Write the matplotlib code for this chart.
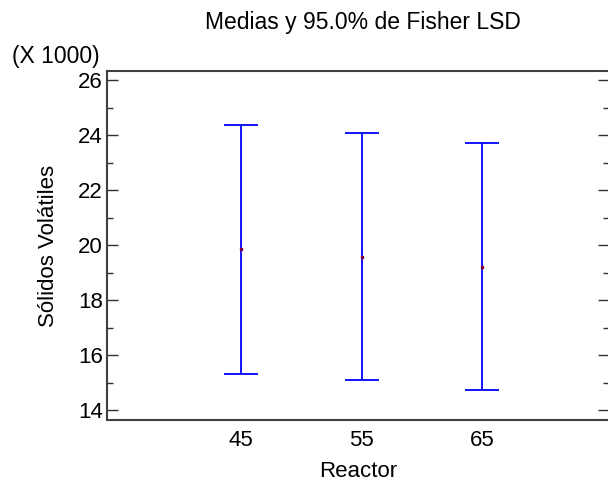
import numpy as np
import matplotlib.pyplot as plt

plt.rcParams['font.family'] = ['Liberation Sans', 'DejaVu Sans']

reactor = ["45", "55", "65"]
medias = [19.85, 19.56, 19.20]
lim_inf = [15.31, 15.09, 14.73]
lim_sup = [24.36, 24.09, 23.71]

x = np.arange(len(reactor)) + 1
medias = np.array(medias)
err = [medias - np.array(lim_inf), np.array(lim_sup) - medias]

fig = plt.figure(figsize=(6.08, 4.83), dpi=100)
ax = fig.add_axes([0.176, 0.130, 0.826, 0.723])

ax.errorbar(x, medias, yerr=err, fmt="none", ecolor="#0000ff", elinewidth=1.3,
            capsize=12, capthick=1.3)
ax.plot(x, medias, "s", color="#800040", markersize=2)

ax.set_xlim(-0.117, 4.06)
ax.set_ylim(13.64, 26.33)
ax.set_xticks(x)
ax.set_xticklabels(reactor)
ax.set_yticks([14, 16, 18, 20, 22, 24, 26])
ax.set_yticks([15, 17, 19, 21, 23, 25], minor=True)

ax.tick_params(axis="x", length=0, labelsize=16, pad=7)
ax.tick_params(axis="y", which="major", direction="in", length=8, right=True,
               labelsize=16, width=1, color="#303030", pad=3)
ax.tick_params(axis="y", which="minor", direction="in", length=4, right=True,
               width=1, color="#303030")
for s in ax.spines.values():
    s.set_color("#404040")
    s.set_linewidth(1.5)

ax.set_xlabel("Reactor", fontsize=16, labelpad=7)
ax.set_ylabel("Sólidos Volátiles", fontsize=16, labelpad=14)
fig.text(363 / 608, 1 - 22 / 483, "Medias y 95.0% de Fisher LSD", fontsize=16.5,
         ha="center", va="center")
fig.text(12 / 608, 1 - 57 / 483, "(X 1000)", fontsize=16.5, ha="left", va="center")

fig.savefig("out.png", dpi=100)
